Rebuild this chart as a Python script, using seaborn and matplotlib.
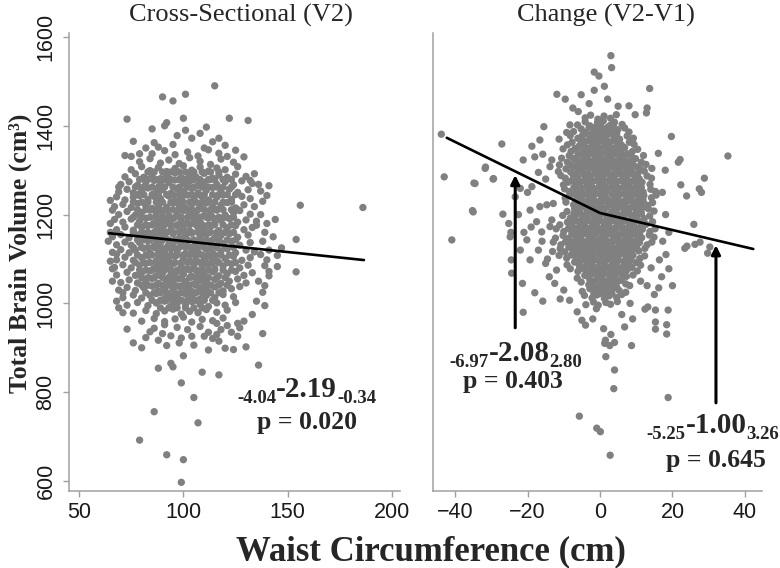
import pandas as pd
import seaborn as sns
import matplotlib.pyplot as plt

sns.set_theme(style="white")
plt.rcParams['font.family'] = ['Liberation Sans', 'DejaVu Sans']

# --- data: (waist cm, total brain volume cm3) ---
cross_core = [
    (85,1337),(91,1344),(96,1335),(102,1341),(107,1332),(112,1346),(117,1338),(121,1331),
    (79,1319),(84,1326),(89,1316),(93,1323),(98,1315),(103,1328),(108,1320),(113,1313),(118,1325),(124,1318),
    (75,1301),(80,1308),(84,1299),(88,1306),(92,1297),(96,1304),(100,1310),(104,1300),(108,1307),(112,1298),(116,1305),(120,1301),(126,1308),
    (72,1285),(77,1292),(81,1284),(85,1290),(89,1281),(92,1288),(96,1294),(99,1283),(103,1290),(106,1285),(110,1293),(114,1282),(117,1289),(121,1284),(125,1291),(130,1286),
    (70,1268),(74,1274),(78,1266),(82,1273),(86,1277),(89,1267),(93,1272),(96,1278),(100,1269),(103,1275),(107,1266),(110,1273),(113,1279),(116,1268),(120,1274),(124,1267),(128,1276),(133,1270),
    (69,1251),(73,1257),(76,1249),(80,1255),(83,1260),(87,1250),(90,1256),(94,1248),(97,1258),(100,1252),(104,1259),(107,1249),(111,1255),(114,1261),(118,1251),(122,1257),(126,1250),(131,1256),
    (68,1240),(72,1233),(76,1239),(79,1243),(83,1234),(86,1241),(89,1236),(93,1242),(96,1232),(99,1238),(102,1244),(105,1235),(109,1240),(112,1233),(116,1239),(119,1244),(123,1234),(128,1241),(132,1236),
    (67,1218),(71,1223),(75,1216),(78,1225),(82,1219),(85,1214),(88,1222),(92,1217),(95,1226),(98,1220),(101,1215),(104,1223),(108,1218),(111,1226),(114,1216),(118,1221),(121,1227),(125,1215),(129,1222),(134,1218),
    (69,1200),(73,1207),(77,1199),(80,1205),(84,1210),(87,1201),(90,1206),(93,1198),(97,1204),(100,1209),(103,1200),(106,1206),(110,1198),(113,1205),(116,1210),(120,1199),(124,1204),(127,1209),(132,1201),
    (67,1189),(71,1183),(75,1190),(79,1185),(82,1192),(86,1181),(89,1188),(92,1183),(95,1191),(99,1186),(102,1181),(105,1189),(108,1184),(112,1192),(115,1182),(118,1187),(122,1191),(126,1183),(130,1188),(135,1185),
    (68,1166),(72,1172),(76,1165),(80,1171),(83,1175),(87,1164),(90,1170),(94,1166),(97,1174),(100,1168),(103,1163),(107,1171),(110,1166),(113,1173),(117,1164),(121,1170),(125,1175),(129,1166),(133,1171),
    (66,1150),(70,1155),(74,1148),(78,1154),(81,1158),(85,1149),(88,1156),(91,1151),(95,1157),(98,1147),(101,1153),(104,1158),(108,1150),(111,1155),(115,1147),(118,1153),(122,1157),(126,1149),(131,1154),
    (68,1132),(72,1138),(75,1131),(79,1137),(83,1141),(86,1130),(89,1136),(93,1133),(96,1140),(99,1134),(102,1129),(106,1137),(109,1132),(112,1139),(116,1130),(119,1135),(123,1140),(127,1131),(132,1137),
    (66,1115),(70,1121),(74,1114),(77,1120),(81,1124),(84,1113),(88,1119),(91,1116),(94,1123),(97,1117),(101,1112),(104,1120),(107,1115),(111,1122),(114,1113),(118,1118),(121,1123),(125,1114),(130,1120),(134,1116),
    (68,1098),(72,1104),(76,1097),(80,1103),(83,1107),(87,1096),(90,1102),(93,1099),(96,1106),(100,1100),(103,1095),(106,1103),(110,1098),(113,1105),(116,1096),(120,1101),(124,1106),(128,1097),(132,1103),
    (67,1081),(71,1087),(75,1080),(79,1086),(82,1090),(86,1079),(89,1085),(92,1082),(95,1089),(99,1083),(102,1078),(105,1086),(109,1081),(112,1088),(115,1079),(119,1084),(123,1089),(127,1080),(131,1086),
    (68,1064),(73,1070),(77,1063),(80,1069),(84,1073),(87,1062),(90,1068),(94,1065),(97,1072),(100,1066),(104,1061),(107,1069),(110,1064),(114,1071),(117,1062),(121,1067),(125,1072),(129,1063),(133,1069),
    (70,1047),(74,1053),(78,1046),(82,1052),(85,1056),(88,1045),(92,1051),(95,1048),(98,1055),(101,1049),(105,1044),(108,1052),(111,1047),(115,1054),(118,1045),(122,1050),(126,1055),(130,1046),
    (69,1030),(73,1036),(77,1029),(81,1035),(85,1039),(88,1028),(91,1034),(95,1031),(98,1038),(101,1032),(104,1027),(108,1035),(111,1030),(115,1037),(119,1028),(123,1033),(127,1038),
    (71,1013),(76,1019),(80,1012),(84,1018),(87,1022),(91,1011),(94,1017),(97,1014),(101,1021),(104,1015),(108,1010),(111,1018),(115,1013),(119,1020),(124,1015),
    (73,996),(78,1002),(83,995),(87,1001),(91,1005),(94,994),(97,1000),(101,997),(104,1004),(108,998),(112,993),(116,1001),(120,996),(125,1002),
    (76,978),(82,984),(87,977),(91,983),(95,987),(99,976),(103,982),(107,979),(111,986),(116,980),(121,985),
    (80,960),(86,966),(91,959),(96,965),(100,969),(104,958),(109,964),(114,961),(119,967),
]
# extra points where the cloud is solid grey: volume -> waist values
cross_fill = {
    1296: [83, 86, 90, 94, 98, 101, 105, 109, 113, 117],
    1279: [79, 83, 87, 91, 94, 98, 101, 105, 108, 112, 115, 119, 123],
    1262: [77, 81, 85, 88, 91, 95, 98, 102, 105, 109, 112, 116, 119, 123],
    1245: [78, 81, 85, 88, 92, 95, 98, 101, 104, 107, 110, 114, 117, 121, 125],
    1228: [76, 80, 83, 87, 90, 94, 97, 100, 103, 106, 109, 112, 115, 119, 123],
    1211: [78, 82, 86, 89, 92, 95, 98, 101, 104, 107, 110, 113, 116, 119, 123, 126],
    1194: [76, 80, 84, 87, 90, 93, 96, 99, 102, 105, 108, 111, 114, 117, 120, 124],
    1177: [78, 82, 85, 88, 91, 94, 97, 100, 103, 106, 109, 112, 115, 119, 123],
    1160: [76, 80, 83, 86, 89, 92, 95, 98, 101, 104, 107, 110, 113, 116, 120, 124],
    1143: [78, 81, 84, 87, 90, 93, 96, 99, 102, 105, 108, 111, 114, 117, 121, 125],
    1126: [76, 80, 83, 86, 89, 92, 95, 98, 101, 104, 107, 110, 113, 116, 120, 124],
    1109: [78, 82, 85, 88, 91, 94, 97, 100, 103, 106, 109, 112, 115, 118, 122],
    1092: [77, 81, 84, 87, 90, 93, 96, 99, 102, 105, 108, 111, 114, 117, 121, 125],
    1075: [79, 82, 85, 88, 91, 94, 97, 100, 103, 106, 109, 112, 115, 119, 123],
    1058: [80, 83, 86, 90, 93, 96, 99, 103, 106, 109, 112, 116, 120],
    1041: [80, 83, 87, 90, 93, 96, 100, 103, 106, 110, 113, 117, 121],
    1024: [82, 86, 89, 92, 96, 99, 102, 106, 109, 113, 117],
    1007: [85, 89, 92, 95, 99, 102, 106, 110, 114],
    990: [89, 93, 97, 101, 105, 109],
}
cross_fringe = [
    (90,1465),(95,1456),(101,1471),(115,1490),
    (73,1415),(100,1417),(122,1417),(131,1412),(111,1397),(85,1393),(91,1400),(92,1407),
    (76,1365),(86,1362),(114,1364),(120,1356),(79,1337),(72,1333),(75,1331),
    (97,1378),(104,1372),(108,1383),(88,1352),(95,1358),(110,1350),(125,1345),(82,1350),(129,1330),(117,1372),(101,1390),
    (156,1221),(186,1216),(144,1189),(154,1144),(154,1071),(147,1125),(141,1265),(137,1253),(140,1243),(138,1230),
    (137,1200),(140,1180),(139,1160),(143,1150),(138,1140),(137,1110),(140,1098),(139,1085),(136,1050),(141,1062),
    (139,1040),(138,1025),(135,1005),(139,995),(138,932),(130,902),(136,861),(129,960),(133,975),(127,945),
    (141,1120),(145,1108),(134,1292),(132,1277),(136,1268),(145,1083),(141,1072),(135,1176),
    (65,1095),(68,1111),(71,1024),(65,1180),(64,1140),(65,1160),(66,1050),(68,1005),(71,979),(73,942),
    (76,911),(80,900),(69,990),(66,1210),(69,1262),(65,1232),(66,1078),
    (86,944),(90,932),(94,927),(84,936),(97,946),(102,941),(108,948),(112,935),(116,930),(118,941),
    (123,935),(126,926),(120,899),(124,896),(112,895),(105,906),(98,911),(92,905),(88,917),(82,923),
    (100,882),(88,854),(95,857),(94,865),(117,915),(114,921),(110,926),(104,926),(99,922),(91,952),
    (116,955),(121,950),(126,955),
    (99,597),(100,648),(92,659),(79,692),(107,731),(86,756),(105,788),(99,821),(109,845),(117,839),
]
change_core = [
    (-4.1,1418),(-2.6,1424),(-0.6,1415),(1.1,1422),(2.9,1417),(4.5,1425),
    (-6.2,1402),(-4.1,1409),(-2.8,1400),(-0.7,1407),(0.9,1411),(2.8,1401),(4.0,1408),(6.1,1403),
    (-7.3,1387),(-5.2,1393),(-3.9,1386),(-1.8,1394),(-0.1,1388),(1.6,1392),(3.4,1385),(4.9,1391),(6.8,1395),(8.0,1386),
    (-8.2,1378),(-6.1,1372),(-4.8,1379),(-2.7,1371),(-1.0,1377),(0.8,1373),(2.0,1380),(4.1,1374),(5.4,1370),(7.5,1377),(9.2,1372),
    (-9.0,1357),(-7.7,1363),(-5.6,1356),(-4.3,1364),(-2.1,1358),(-0.9,1362),(1.3,1355),(2.5,1361),(4.7,1366),(5.9,1357),(8.1,1363),(9.4,1358),
    (-10.2,1348),(-8.0,1342),(-6.9,1349),(-4.6,1341),(-3.4,1347),(-1.2,1343),(0.0,1350),(2.2,1344),(3.4,1340),(5.6,1346),(6.8,1351),(8.9,1342),(10.4,1347),
    (-10.6,1327),(-8.5,1333),(-7.3,1326),(-5.0,1332),(-3.8,1328),(-1.6,1335),(-0.4,1329),(1.8,1325),(2.9,1331),(5.2,1334),(6.3,1327),(8.6,1332),(9.8,1326),(12.0,1333),
    (-11.2,1312),(-9.0,1318),(-7.9,1311),(-5.6,1317),(-4.4,1313),(-2.2,1320),(-1.0,1314),(1.2,1310),(2.3,1316),(4.6,1319),(5.7,1312),(8.0,1317),(9.2,1311),(11.4,1318),(12.7,1313),
    (-11.5,1297),(-9.4,1303),(-8.1,1296),(-5.9,1302),(-4.7,1298),(-2.5,1305),(-1.3,1299),(0.9,1295),(2.0,1301),(4.3,1304),(5.4,1297),(7.7,1302),(8.8,1296),(11.1,1303),(12.2,1298),(14.3,1304),
    (-10.8,1288),(-9.6,1282),(-7.4,1289),(-6.1,1281),(-4.0,1287),(-2.7,1283),(-0.6,1290),(0.7,1284),(2.9,1280),(4.0,1286),(6.3,1291),(7.4,1283),(9.7,1288),(10.8,1281),(13.0,1287),(14.2,1282),
    (-10.1,1267),(-8.8,1273),(-6.7,1266),(-5.4,1272),(-3.3,1268),(-2.0,1275),(0.1,1269),(1.4,1265),(3.5,1271),(4.8,1274),(7.0,1267),(8.2,1272),(10.4,1266),(11.6,1273),(13.8,1268),
    (-9.8,1258),(-8.5,1252),(-6.4,1259),(-5.1,1251),(-3.0,1257),(-1.7,1253),(0.4,1260),(1.7,1254),(3.8,1250),(5.1,1256),(7.2,1261),(8.5,1253),(10.6,1258),(11.9,1251),(14.0,1257),(15.3,1252),
    (-9.6,1237),(-8.3,1243),(-6.2,1236),(-4.9,1242),(-2.8,1238),(-1.5,1245),(0.6,1239),(1.9,1235),(4.0,1241),(5.3,1244),(7.4,1237),(8.7,1242),(10.8,1236),(12.1,1243),(14.2,1238),(15.5,1244),
    (-9.4,1228),(-7.3,1222),(-6.0,1229),(-3.9,1221),(-2.6,1227),(-0.5,1223),(0.8,1230),(2.9,1224),(4.2,1220),(6.3,1226),(7.6,1231),(9.7,1223),(11.0,1228),(13.1,1221),(14.5,1227),
    (-9.1,1207),(-7.0,1213),(-5.7,1206),(-3.6,1212),(-2.3,1208),(-0.2,1215),(1.1,1209),(3.2,1205),(4.5,1211),(6.6,1214),(7.9,1207),(10.0,1212),(11.3,1206),(13.4,1213),(14.9,1208),
    (-10.3,1198),(-8.2,1192),(-6.9,1199),(-4.8,1191),(-3.5,1197),(-1.4,1193),(-0.1,1200),(2.0,1194),(3.3,1190),(5.4,1196),(6.7,1201),(8.8,1193),(10.1,1198),(12.2,1191),(13.7,1197),
    (-11.1,1177),(-9.0,1183),(-7.7,1176),(-5.6,1182),(-4.3,1178),(-2.2,1185),(-0.9,1179),(1.2,1175),(2.5,1181),(4.6,1184),(5.9,1177),(8.0,1182),(9.3,1176),(11.4,1183),(12.7,1178),(14.5,1184),
    (-12.1,1168),(-10.0,1162),(-8.7,1169),(-6.6,1161),(-5.3,1167),(-3.2,1163),(-1.9,1170),(0.2,1164),(1.5,1160),(3.6,1166),(4.9,1171),(7.0,1163),(8.3,1168),(10.4,1161),(11.7,1167),(13.8,1162),(15.2,1168),
    (-12.3,1147),(-10.2,1153),(-8.9,1146),(-6.8,1152),(-5.5,1148),(-3.4,1155),(-2.1,1149),(0.0,1145),(1.3,1151),(3.4,1154),(4.7,1147),(6.8,1152),(8.1,1146),(10.2,1153),(11.5,1148),(13.6,1154),(14.9,1149),
    (-12.9,1138),(-10.8,1132),(-9.5,1139),(-7.4,1131),(-6.1,1137),(-4.0,1133),(-2.7,1140),(-0.6,1134),(0.7,1130),(2.8,1136),(4.1,1141),(6.2,1133),(7.5,1138),(9.6,1131),(10.9,1137),(13.0,1132),(14.3,1138),
    (-13.1,1117),(-11.0,1123),(-9.7,1116),(-7.6,1122),(-6.3,1118),(-4.2,1125),(-2.9,1119),(-0.8,1115),(0.5,1121),(2.6,1124),(3.9,1117),(6.0,1122),(7.3,1116),(9.4,1123),(10.7,1118),(12.4,1124),
    (-11.3,1108),(-9.2,1102),(-7.9,1109),(-5.8,1101),(-4.5,1107),(-2.4,1103),(-1.1,1110),(1.0,1104),(2.3,1100),(4.4,1106),(5.7,1111),(7.8,1103),(9.1,1108),(11.0,1101),(12.3,1107),
    (-9.1,1087),(-7.0,1093),(-5.7,1086),(-3.6,1092),(-2.3,1088),(-0.2,1095),(1.1,1089),(3.2,1085),(4.5,1091),(6.6,1094),(7.9,1087),(10.0,1092),(11.2,1086),
    (-8.2,1078),(-6.1,1072),(-4.8,1079),(-2.7,1071),(-1.4,1077),(0.7,1073),(2.0,1080),(4.1,1074),(5.4,1070),(7.5,1076),(8.8,1081),(10.3,1073),
    (-6.3,1057),(-4.2,1063),(-2.9,1056),(-0.8,1062),(0.5,1058),(2.6,1065),(3.9,1059),(6.0,1055),(7.3,1061),(9.1,1064),
    (-5.2,1048),(-3.1,1042),(-1.8,1049),(0.3,1041),(1.6,1047),(3.7,1043),(5.0,1050),(7.1,1044),(8.2,1040),
    (-4.9,1027),(-2.8,1033),(-1.5,1026),(0.6,1032),(1.9,1028),(4.0,1035),(5.3,1029),(7.1,1025),
    (-4.3,1018),(-2.2,1012),(-0.9,1019),(1.2,1011),(2.5,1017),(4.6,1013),(6.0,1020),
    (-3.9,997),(-1.8,1003),(-0.5,996),(1.6,1002),(2.9,998),(4.8,1004),
]
change_fill = {
    1397: [-3.0, -1.2, 0.4, 2.2, 3.8],
    1382: [-4.0, -2.2, -0.6, 1.2, 2.8, 4.6],
    1367: [-5.0, -3.2, -1.6, 0.2, 1.8, 3.6, 5.2],
    1352: [-5.9, -4.0, -2.4, -0.6, 1.0, 2.8, 4.4, 6.2],
    1337: [-6.1, -4.3, -2.7, -0.9, 0.7, 2.5, 4.1, 5.9, 7.5],
    1322: [-6.5, -4.7, -3.1, -1.3, 0.3, 2.1, 3.7, 5.5, 7.1, 8.9],
    1307: [-6.8, -5.0, -3.4, -1.6, 0.0, 1.8, 3.4, 5.2, 6.8, 8.6, 10.2],
    1292: [-6.6, -4.8, -3.2, -1.4, 0.2, 2.0, 3.6, 5.4, 7.0, 8.8, 10.4],
    1277: [-7.7, -6.1, -4.3, -2.7, -0.9, 0.7, 2.5, 4.1, 5.9, 7.5, 9.3, 10.9],
    1262: [-7.2, -5.6, -3.8, -2.2, -0.4, 1.2, 3.0, 4.6, 6.4, 8.0, 9.8, 11.4],
    1247: [-7.0, -5.4, -3.6, -2.0, -0.2, 1.4, 3.2, 4.8, 6.6, 8.2, 10.0, 11.6],
    1232: [-6.7, -5.1, -3.3, -1.7, 0.1, 1.7, 3.5, 5.1, 6.9, 8.5, 10.3, 11.9],
    1217: [-6.4, -4.8, -3.0, -1.4, 0.4, 2.0, 3.8, 5.4, 7.2, 8.8, 10.6, 12.2],
    1202: [-7.2, -5.6, -3.8, -2.2, -0.4, 1.2, 3.0, 4.6, 6.4, 8.0, 9.8, 11.4],
    1187: [-8.2, -6.6, -4.8, -3.2, -1.4, 0.2, 2.0, 3.6, 5.4, 7.0, 8.8, 10.4],
    1172: [-7.6, -5.8, -4.2, -2.4, -0.8, 1.0, 2.6, 4.4, 6.0, 7.8, 9.4, 11.1],
    1157: [-7.8, -6.0, -4.4, -2.6, -1.0, 0.8, 2.4, 4.2, 5.8, 7.6, 9.2, 10.9],
    1142: [-8.4, -6.6, -5.0, -3.2, -1.6, 0.2, 1.8, 3.6, 5.2, 7.0, 8.6, 10.3],
    1127: [-8.6, -6.8, -5.2, -3.4, -1.8, 0.0, 1.6, 3.4, 5.0, 6.8, 8.4, 10.1],
    1112: [-7.0, -5.2, -3.6, -1.8, -0.2, 1.6, 3.2, 5.0, 6.6, 8.4],
    1097: [-6.7, -5.1, -3.3, -1.7, 0.1, 1.7, 3.5, 5.1, 6.9, 8.5],
    1082: [-5.6, -4.0, -2.2, -0.6, 1.2, 2.8, 4.6, 6.2, 8.0],
    1067: [-3.8, -2.2, -0.4, 1.2, 3.0, 4.6, 6.4],
    1052: [-2.7, -1.1, 0.7, 2.3, 4.1, 5.7],
    1037: [-2.2, -0.6, 1.2, 2.8, 4.6],
    1022: [-1.7, -0.1, 1.7, 3.3],
}
change_fringe = [
    (3.0,1558),(3.2,1531),(-1.6,1521),(-0.3,1512),(1.2,1489),(-1.6,1480),(13.7,1484),(-11.9,1471),(-9.6,1460),(-5.2,1470),
    (2.1,1460),(13.0,1440),(12.8,1429),(9.7,1425),(-6.0,1432),(8.0,1445),(-3.0,1450),(5.0,1444),(-7.5,1440),(-8.3,1402),
    (-9.2,1385),(-11.3,1370),(-15.5,1398),
    (-43.8,1381),(-27.1,1359),(-43.0,1285),(-34.8,1271),(-31.6,1307),(-29.5,1280),(-35.2,1209),(-40.9,1143),(-24.6,1160),
    (-26.8,1201),(-24.8,1150),(-23.4,1240),(-22.0,1259),(-18.8,1263),(-16.6,1218),(-14.7,1222),(-12.9,1225),(-13.3,1188),
    (-19.3,1210),(-17.5,1184),(-16.1,1161),(-13.8,1173),(-20.2,1143),(-17.0,1120),(-19.3,1098),(-22.0,1120),(-18.8,1354),
    (-16.6,1368),(-21.2,1323),(-18.0,1330),(-15.8,1336),(-13.3,1323),(-13.8,1308),(-31.7,1304),(-34.5,1270),(-35.0,1206),
    (-29.4,1281),(-21.2,980),(-18.0,1024),(-15.8,1005),(-21.4,1045),(-24.4,1068),(-24.5,1098),(-14.0,1060),(-12.0,1075),
    (-15.0,1090),(-16.0,1140),(-14.5,1100),(-12.5,1045),(-10.0,1030),(-11.0,1010),(-8.4,1007),(-6.3,981),(-4.0,951),
    (-5.0,962),(-20.0,1250),(-15.0,1280),(-17.0,1295),(-22.5,1200),(-25.2,1180),(-19.0,1172),(-21.0,1160),
    (19.7,1376),(35.3,1332),(28.8,1282),(28.0,1250),(27.4,1258),(22.1,1324),(22.3,1267),(23.9,1242),(25.9,1178),(29.7,1113),
    (24.0,1129),(26.2,1133),(19.0,1078),(16.1,1338),(21.6,1318),(27.6,1138),(23.4,1124),(30.3,1127),(18.0,1300),(17.2,1250),
    (18.1,1200),(19.0,1160),(17.3,1140),(18.2,1110),(16.4,1098),(17.0,1060),(15.3,942),(15.3,958),(15.3,985),(18.4,952),
    (18.4,931),(18.8,985),(12.4,987),(13.2,992),(8.3,1000),(8.7,905),(6.8,947),(1.0,943),(15.0,1020),(13.0,1040),
    (16.2,1035),(11.2,1050),(14.1,1080),(20.0,1040),
    (2.8,658),(-0.9,719),(0.1,711),(-5.7,746),(18.8,788),(3.8,808),(4.0,850),(1.6,880),(1.3,910),(1.5,917),
    (2.7,905),(4.0,912),(-2.0,965),(3.0,930),(6.0,975),(-1.0,988),(9.0,965),
]

# fitted lines (linear and piecewise with knot at 0)
cross_fit_x = [64.4, 186.5]
cross_fit_y = [1158, 1097.6]
change_fit_x = [-42.3, 0.0, 42.3]
change_fit_y = [1373, 1203.6, 1122.5]


def to_frame(core, fill, fringe):
    rows = list(core) + [(w, v) for v, ws in fill.items() for w in ws] + list(fringe)
    return pd.DataFrame(rows, columns=['waist', 'tbv'])


cross_df = to_frame(cross_core, cross_fill, cross_fringe)
change_df = to_frame(change_core, change_fill, change_fringe)

SERIF = ['Liberation Serif', 'DejaVu Serif']
DOT = '#808080'
AXC = '#a0a0a0'

fig = plt.figure(figsize=(7.8, 5.68), dpi=100)
ax1 = fig.add_axes([0.0885, 0.1356, 0.4244, 0.8063])
ax2 = fig.add_axes([0.5551, 0.1356, 0.4218, 0.8063])

for ax, df, fx, fy in ((ax1, cross_df, cross_fit_x, cross_fit_y),
                       (ax2, change_df, change_fit_x, change_fit_y)):
    sns.scatterplot(data=df, x='waist', y='tbv', ax=ax, color=DOT, s=28,
                    linewidth=0, edgecolor='none', legend=False)
    sns.lineplot(x=fx, y=fy, ax=ax, color='black', linewidth=1.9, sort=False)
    ax.set_ylim(577.5, 1609)
    ax.set_xlabel('')
    ax.set_ylabel('')
    sns.despine(ax=ax)
    for side in ('left', 'bottom'):
        ax.spines[side].set_color(AXC)
        ax.spines[side].set_linewidth(1.1)
    ax.tick_params(axis='x', bottom=True, length=4, width=1, color=AXC,
                   labelsize=15.5, labelcolor='#1a1a1a', pad=4)

ax1.set_xlim(45.2, 203.8)
ax1.set_xticks([50, 100, 150, 200])
ax1.set_yticks([600, 800, 1000, 1200, 1400, 1600])
ax1.tick_params(axis='y', left=True, length=4, width=1, color=AXC,
                labelsize=15.5, labelcolor='#1a1a1a', labelrotation=90, pad=5)
for lab in ax1.get_yticklabels():
    lab.set_verticalalignment('center')

ax2.set_xlim(-46.1, 44.7)
ax2.set_xticks([-40, -20, 0, 20, 40])
ax2.set_yticks([])

ax1.set_title('Cross-Sectional (V2)', fontsize=19, family=SERIF, x=0.52, pad=8.5)
ax2.set_title('Change (V2-V1)', fontsize=19, family=SERIF, x=0.526, pad=8.5)


def stat_label(ax, x, y, lo, est, hi, p_y, p_txt, p_x=None):
    big = ax.text(x, y, est, ha='center', va='baseline', fontsize=21,
                  fontweight='bold', family=SERIF)
    ax.annotate(lo, xy=(0, 0), xycoords=big, ha='right', va='baseline',
                fontsize=13.5, fontweight='bold', family=SERIF)
    ax.annotate(hi, xy=(1, 0), xycoords=big, ha='left', va='baseline',
                fontsize=13.5, fontweight='bold', family=SERIF)
    ax.text(x if p_x is None else p_x, p_y, p_txt, ha='center', va='baseline',
            fontsize=18.5, fontweight='bold', family=SERIF)


stat_label(ax1, 159, 789, '-4.04', '-2.19', '-0.34', 717, 'p = 0.020')
stat_label(ax2, -22.3, 871, '-6.97', '-2.08', '2.80', 809, 'p = 0.403', p_x=-24.1)
stat_label(ax2, 32, 709, '-5.25', '-1.00', '3.26', 632, 'p = 0.645')

arrow = dict(arrowstyle='-|>', color='black', lw=2.2, mutation_scale=13,
             shrinkA=0, shrinkB=0)
ax2.annotate('', xy=(-23.4, 1289), xytext=(-23.4, 945), arrowprops=arrow)
ax2.annotate('', xy=(32.0, 1131), xytext=(32.0, 776), arrowprops=arrow)

fig.text(0.0256, 0.5537, 'Total Brain Volume (cm³)', rotation=90, ha='center',
         va='center', fontsize=18.5, fontweight='bold', family=SERIF)
fig.text(0.553, 0.014, 'Waist Circumference (cm)', ha='center', va='baseline',
         fontsize=25, fontweight='bold', family=SERIF)

fig.savefig('out.png', dpi=100, facecolor='white')
